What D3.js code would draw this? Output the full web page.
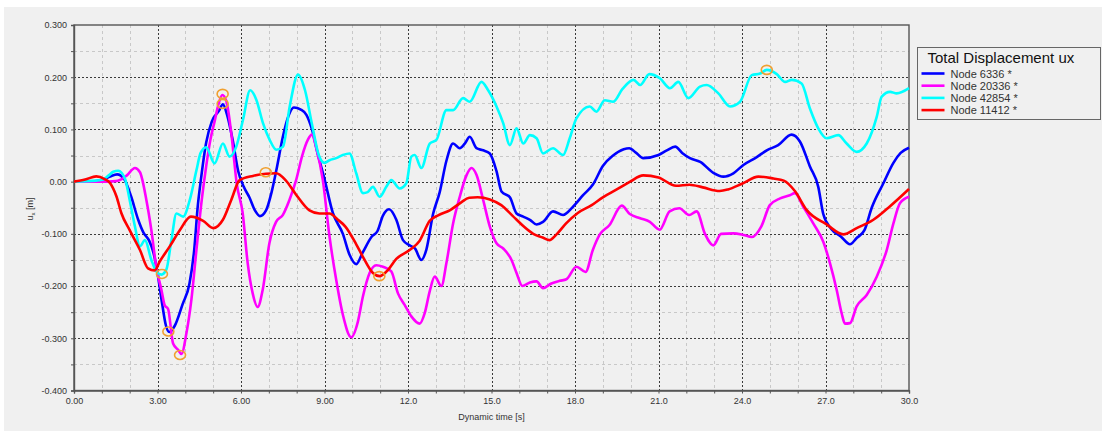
<!DOCTYPE html>
<html>
<head>
<meta charset="utf-8">
<script src="https://cdn.jsdelivr.net/npm/d3@7"></script>
<style>
  body { margin: 0; background: #ffffff; }
  svg { display: block; }
</style>
</head>
<body>
<div id="chart"></div>
<script>
// [time s, ux m]
const node6336 = [[0,0],[0.5,0],[1.0,0.003],[1.3,0.01],[1.55,0.014],[1.8,0.005],[2.05,-0.028],[2.3,-0.072],[2.5,-0.098],[2.7,-0.113],[2.85,-0.135],[3.0,-0.175],[3.15,-0.228],[3.3,-0.275],[3.42,-0.288],[3.62,-0.276],[3.9,-0.235],[4.15,-0.195],[4.32,-0.13],[4.45,-0.045],[4.55,0.0],[4.75,0.075],[4.95,0.115],[5.2,0.135],[5.35,0.148],[5.5,0.128],[5.7,0.08],[5.9,0.02],[6.1,-0.01],[6.3,-0.03],[6.5,-0.055],[6.68,-0.066],[6.9,-0.055],[7.1,-0.02],[7.3,0.03],[7.5,0.085],[7.7,0.125],[7.9,0.142],[8.15,0.138],[8.35,0.128],[8.55,0.1],[8.75,0.055],[9.0,0.005],[9.3,-0.06],[9.66,-0.1],[9.9,-0.14],[10.14,-0.158],[10.38,-0.135],[10.7,-0.105],[10.9,-0.095],[11.1,-0.065],[11.32,-0.053],[11.58,-0.073],[11.82,-0.112],[12.06,-0.122],[12.25,-0.128],[12.48,-0.15],[12.66,-0.13],[12.9,-0.062],[13.14,-0.02],[13.38,0.04],[13.62,0.073],[13.86,0.064],[14.04,0.073],[14.22,0.086],[14.46,0.064],[14.7,0.06],[14.94,0.054],[15.18,0.02],[15.36,-0.019],[15.66,-0.03],[15.9,-0.061],[16.14,-0.067],[16.38,-0.073],[16.62,-0.082],[16.85,-0.077],[17.21,-0.057],[17.57,-0.064],[17.93,-0.048],[18.29,-0.026],[18.65,-0.005],[19.0,0.03],[19.37,0.05],[19.75,0.062],[19.95,0.064],[20.2,0.055],[20.45,0.045],[21.0,0.051],[21.3,0.06],[21.6,0.067],[21.85,0.055],[22.13,0.045],[22.5,0.038],[22.97,0.017],[23.33,0.0096],[23.69,0.016],[24.05,0.032],[24.53,0.047],[24.89,0.06],[25.3,0.07],[25.78,0.09],[26.08,0.077],[26.44,0.029],[26.74,-0.01],[26.92,-0.062],[27.2,-0.09],[27.55,-0.105],[27.88,-0.12],[28.12,-0.108],[28.4,-0.093],[28.66,-0.05],[29.08,-0.003],[29.44,0.036],[29.7,0.055],[30,0.065]];

const node20336 = [[0,0],[1.0,0],[1.5,0.001],[1.65,0.003],[1.9,0.012],[2.19,0.026],[2.37,0.018],[2.6,-0.035],[2.78,-0.093],[2.96,-0.165],[3.14,-0.207],[3.26,-0.237],[3.38,-0.244],[3.56,-0.31],[3.74,-0.322],[3.86,-0.33],[4.04,-0.29],[4.22,-0.225],[4.4,-0.13],[4.59,-0.035],[4.75,0.03],[4.9,0.08],[5.05,0.115],[5.2,0.15],[5.33,0.166],[5.47,0.155],[5.65,0.093],[5.85,-0.005],[6.06,-0.06],[6.24,-0.156],[6.42,-0.214],[6.6,-0.24],[6.78,-0.207],[7.02,-0.118],[7.26,-0.077],[7.5,-0.064],[7.74,-0.035],[7.98,0.003],[8.2,0.05],[8.4,0.08],[8.55,0.09],[8.7,0.065],[8.94,0.003],[9.18,-0.105],[9.42,-0.188],[9.66,-0.255],[9.96,-0.298],[10.2,-0.268],[10.38,-0.22],[10.62,-0.175],[10.86,-0.16],[11.1,-0.163],[11.4,-0.172],[11.64,-0.214],[11.88,-0.236],[12.12,-0.258],[12.42,-0.272],[12.6,-0.252],[12.78,-0.21],[12.96,-0.182],[13.2,-0.2],[13.38,-0.156],[13.62,-0.08],[13.86,-0.029],[14.1,0.012],[14.28,0.026],[14.46,0.013],[14.7,-0.035],[14.94,-0.086],[15.18,-0.118],[15.42,-0.128],[15.72,-0.15],[15.9,-0.175],[16.11,-0.2],[16.38,-0.193],[16.62,-0.191],[16.85,-0.204],[17.15,-0.195],[17.45,-0.19],[17.69,-0.187],[18.05,-0.163],[18.38,-0.173],[18.64,-0.131],[18.88,-0.102],[19.24,-0.083],[19.68,-0.046],[19.97,-0.062],[20.34,-0.07],[20.69,-0.077],[21.04,-0.092],[21.4,-0.057],[21.75,-0.051],[22.1,-0.064],[22.37,-0.057],[22.67,-0.1],[22.97,-0.122],[23.25,-0.1],[23.69,-0.099],[24.05,-0.102],[24.35,-0.106],[24.7,-0.085],[25.0,-0.045],[25.37,-0.032],[25.72,-0.026],[25.9,-0.022],[26.2,-0.048],[26.56,-0.08],[26.92,-0.115],[27.16,-0.156],[27.4,-0.207],[27.58,-0.252],[27.7,-0.272],[27.88,-0.271],[28.12,-0.239],[28.48,-0.217],[28.84,-0.182],[29.2,-0.131],[29.44,-0.08],[29.68,-0.041],[30,-0.029]];

const node42854 = [[0,0],[0.8,0.002],[1.05,0.004],[1.25,0.012],[1.41,0.019],[1.59,0.021],[1.83,0.006],[2.0,-0.035],[2.19,-0.086],[2.37,-0.124],[2.55,-0.112],[2.78,-0.15],[2.96,-0.172],[3.14,-0.178],[3.32,-0.168],[3.5,-0.112],[3.68,-0.061],[3.92,-0.067],[4.16,-0.035],[4.4,0.022],[4.55,0.055],[4.75,0.066],[5.05,0.035],[5.35,0.073],[5.59,0.048],[5.83,0.067],[6.07,0.118],[6.33,0.175],[6.55,0.157],[6.79,0.112],[7.03,0.08],[7.27,0.061],[7.51,0.067],[7.75,0.144],[8.05,0.205],[8.3,0.175],[8.55,0.11],[8.8,0.05],[9.0,0.036],[9.18,0.041],[9.42,0.045],[9.66,0.051],[9.9,0.054],[10.14,0.016],[10.38,-0.022],[10.55,-0.02],[10.74,-0.01],[10.98,-0.029],[11.22,-0.01],[11.4,0.003],[11.7,-0.013],[11.94,-0.003],[12.12,0.048],[12.24,0.051],[12.48,0.026],[12.78,0.073],[13.02,0.08],[13.38,0.137],[13.62,0.137],[13.98,0.16],[14.22,0.153],[14.64,0.191],[14.88,0.175],[15.18,0.144],[15.42,0.112],[15.66,0.07],[15.9,0.102],[16.14,0.073],[16.38,0.089],[16.62,0.083],[16.85,0.054],[17.21,0.064],[17.57,0.051],[17.81,0.083],[18.05,0.121],[18.53,0.144],[18.77,0.134],[19.07,0.156],[19.37,0.153],[19.7,0.177],[20.1,0.195],[20.34,0.185],[20.67,0.206],[21.05,0.198],[21.41,0.179],[21.71,0.191],[22.07,0.16],[22.49,0.182],[22.73,0.185],[23.15,0.169],[23.57,0.144],[23.93,0.153],[24.35,0.204],[24.65,0.207],[24.89,0.214],[25.25,0.206],[25.55,0.191],[25.79,0.195],[26.14,0.188],[26.44,0.14],[26.74,0.102],[27.04,0.083],[27.46,0.089],[27.76,0.073],[28.12,0.057],[28.48,0.073],[28.84,0.124],[29.02,0.163],[29.32,0.172],[29.56,0.169],[30,0.179]];

const node11412 = [[0,0],[0.4,0.004],[0.8,0.01],[1.1,0.005],[1.3,-0.003],[1.53,-0.029],[1.7,-0.06],[2.0,-0.093],[2.37,-0.131],[2.66,-0.166],[2.9,-0.17],[3.08,-0.153],[3.44,-0.124],[3.8,-0.093],[4.2,-0.067],[4.64,-0.075],[5.0,-0.089],[5.35,-0.073],[5.65,-0.035],[5.95,0.003],[6.43,0.011],[6.9,0.015],[7.26,0.016],[7.6,0.003],[7.98,-0.025],[8.46,-0.055],[8.82,-0.061],[9.18,-0.061],[9.48,-0.073],[9.75,-0.086],[10.14,-0.12],[10.38,-0.144],[10.74,-0.175],[10.98,-0.181],[11.25,-0.171],[11.58,-0.148],[12.06,-0.131],[12.42,-0.113],[12.78,-0.075],[13.1,-0.064],[13.5,-0.055],[13.9,-0.04],[14.2,-0.031],[14.5,-0.03],[14.94,-0.034],[15.35,-0.045],[15.75,-0.065],[16.14,-0.085],[16.5,-0.1],[16.84,-0.107],[17.08,-0.112],[17.32,-0.102],[17.68,-0.08],[18.1,-0.06],[18.6,-0.045],[19.0,-0.03],[19.5,-0.015],[19.98,0.0],[20.45,0.012],[21.0,0.008],[21.63,-0.008],[22.11,-0.006],[22.59,-0.011],[23.2,-0.018],[23.5,-0.015],[24.0,-0.004],[24.59,0.0096],[25.13,0.006],[25.5,0.002],[25.9,-0.018],[26.32,-0.054],[27.04,-0.082],[27.64,-0.101],[28.12,-0.089],[28.72,-0.073],[29.32,-0.047],[30,-0.014]];

// orange ring markers [time, ux]
const markers = [[3.16,-0.177],[3.39,-0.287],[3.81,-0.332],[5.34,0.168],[5.34,0.149],[6.89,0.018],[10.97,-0.181],[24.89,0.214]];

const seriesNames = ["Node 6336", "Node 20336", "Node 42854", "Node 11412"];
const seriesColors = ["#0000ff", "#ff00ff", "#00ffff", "#ff0000"];

const xTicks = [0, 3, 6, 9, 12, 15, 18, 21, 24, 27, 30];
const xTickLabels = ["0.00", "3.00", "6.00", "9.00", "12.0", "15.0", "18.0", "21.0", "24.0", "27.0", "30.0"];
const yTicks = [0.3, 0.2, 0.1, 0, -0.1, -0.2, -0.3, -0.4];
const yTickLabels = ["0.300", "0.200", "0.100", "0.00", "-0.100", "-0.200", "-0.300", "-0.400"];

function init() {
    let w = 1102;
    let h = 431;
    const font = "'Liberation Sans', Arial, sans-serif";
    const allSeries = [node6336, node20336, node42854, node11412];

    let svg = d3.select("#chart")
        .append("svg")
        .attr("width", w)
        .attr("height", h);

    // grey panel
    svg.append("rect")
        .attr("x", 4).attr("y", 7)
        .attr("width", w - 4).attr("height", h - 7)
        .attr("fill", "#f0f0f0");

    let x = d3.scaleLinear().domain([0, 30]).range([74, 909]);
    let y = d3.scaleLinear().domain([-0.4, 0.3]).range([390.5, 25]);

    // minor grid (every 1 s and 0.05 m)
    const xMinor = d3.range(0, 31, 1).filter(d => d % 3 !== 0);
    const yMinor = [0.25, 0.15, 0.05, -0.05, -0.15, -0.25, -0.35];

    svg.append("g").selectAll("line")
        .data(xMinor).enter().append("line")
        .attr("x1", d => Math.round(x(d)) + 0.5).attr("x2", d => Math.round(x(d)) + 0.5)
        .attr("y1", y(0.3)).attr("y2", y(-0.4))
        .attr("stroke", "#c8c8c8").attr("stroke-dasharray", "3,3");
    svg.append("g").selectAll("line")
        .data(yMinor).enter().append("line")
        .attr("y1", d => Math.round(y(d)) + 0.5).attr("y2", d => Math.round(y(d)) + 0.5)
        .attr("x1", x(0)).attr("x2", x(30))
        .attr("stroke", "#c8c8c8").attr("stroke-dasharray", "3,3");

    // major grid
    svg.append("g").selectAll("line")
        .data(xTicks.slice(1, -1)).enter().append("line")
        .attr("x1", d => Math.round(x(d)) + 0.5).attr("x2", d => Math.round(x(d)) + 0.5)
        .attr("y1", y(0.3)).attr("y2", y(-0.4))
        .attr("stroke", "#3a3a3a").attr("stroke-dasharray", "2,2");
    svg.append("g").selectAll("line")
        .data(yTicks.slice(1, -1)).enter().append("line")
        .attr("y1", d => Math.round(y(d)) + 0.5).attr("y2", d => Math.round(y(d)) + 0.5)
        .attr("x1", x(0)).attr("x2", x(30))
        .attr("stroke", "#3a3a3a").attr("stroke-dasharray", "2,2");

    // frame
    svg.append("rect")
        .attr("x", x(0)).attr("y", y(0.3))
        .attr("width", x(30) - x(0)).attr("height", y(-0.4) - y(0.3))
        .attr("fill", "none").attr("stroke", "#555").attr("stroke-width", 1.4);

    // axes
    let xAxis = d3.axisBottom(x)
        .tickValues(xTicks)
        .tickFormat((d, i) => xTickLabels[i])
        .tickSize(3).tickPadding(4);
    let gx = svg.append("g")
        .attr("transform", "translate(0," + y(-0.4) + ")")
        .call(xAxis);
    svg.append("g")
        .attr("transform", "translate(0," + y(-0.4) + ")")
        .call(d3.axisBottom(x).tickValues(xMinor).tickFormat("").tickSize(3))
        .call(g => g.select(".domain").remove());

    let yAxis = d3.axisLeft(y)
        .tickValues(yTicks)
        .tickFormat((d, i) => yTickLabels[i])
        .tickSize(3).tickPadding(4);
    let gy = svg.append("g")
        .attr("transform", "translate(" + x(0) + ",0)")
        .call(yAxis);
    svg.append("g")
        .attr("transform", "translate(" + x(0) + ",0)")
        .call(d3.axisLeft(y).tickValues(yMinor).tickFormat("").tickSize(3))
        .call(g => g.select(".domain").remove());

    svg.selectAll(".domain").attr("stroke", "#555").attr("stroke-width", 1.4);
    svg.selectAll(".tick line").attr("stroke", "#555");
    svg.selectAll(".tick text")
        .attr("font-family", font).attr("font-size", 9).attr("fill", "#333");

    // axis titles
    svg.append("text")
        .attr("x", (x(0) + x(30)) / 2).attr("y", 420)
        .attr("text-anchor", "middle")
        .attr("font-family", font).attr("font-size", 9).attr("fill", "#333")
        .text("Dynamic time [s]");

    let ylab = svg.append("text")
        .attr("transform", "translate(33," + 209 + ") rotate(-90)")
        .attr("text-anchor", "middle")
        .attr("font-family", font).attr("font-size", 9).attr("fill", "#333");
    ylab.append("tspan").text("u");
    ylab.append("tspan").attr("font-size", 6).attr("dy", 2).text("x");
    ylab.append("tspan").attr("dy", -2).text(" [m]");

    // series
    let line = d3.line()
        .x(d => x(d[0]))
        .y(d => y(d[1]))
        .curve(d3.curveMonotoneX);

    svg.append("g").selectAll("path")
        .data(allSeries).enter().append("path")
        .attr("d", line)
        .attr("fill", "none")
        .attr("stroke", (d, i) => seriesColors[i])
        .attr("stroke-width", 2.6)
        .attr("stroke-linejoin", "round");

    // markers
    svg.append("g").selectAll("ellipse")
        .data(markers).enter().append("ellipse")
        .attr("cx", d => x(d[0]))
        .attr("cy", d => y(d[1]))
        .attr("rx", 5.5).attr("ry", 4.5)
        .attr("fill", "none")
        .attr("stroke", "#f0a030")
        .attr("stroke-width", 1.6);

    // legend
    let lg = svg.append("g").attr("transform", "translate(917.5,47.5)");
    lg.append("rect")
        .attr("width", 183).attr("height", 72)
        .attr("fill", "#f0f0f0").attr("stroke", "#666");
    lg.append("text")
        .attr("x", 10).attr("y", 15)
        .attr("font-family", font).attr("font-size", 15).attr("fill", "#111")
        .text("Total Displacement ux");
    let items = lg.selectAll(".item")
        .data(seriesNames).enter().append("g")
        .attr("transform", (d, i) => "translate(0," + (26 + i * 12.2) + ")");
    items.append("line")
        .attr("x1", 4).attr("x2", 27)
        .attr("stroke", (d, i) => seriesColors[i])
        .attr("stroke-width", 2.6);
    items.append("text")
        .attr("x", 33).attr("y", 4)
        .attr("font-family", font).attr("font-size", 11).attr("fill", "#333")
        .text(d => d + " *");
}

window.onload = init;
</script>
</body>
</html>
